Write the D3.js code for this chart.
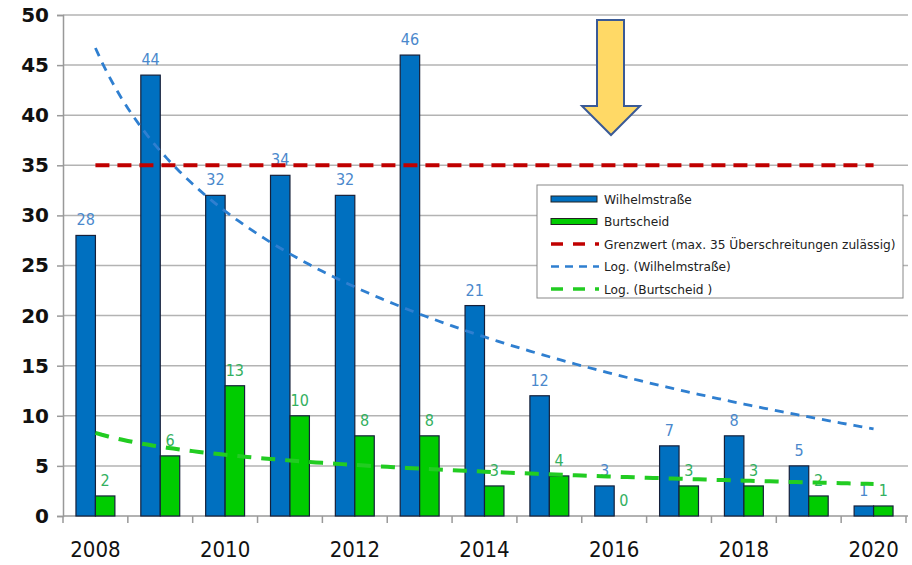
<!DOCTYPE html>
<html>
<head>
<meta charset="UTF-8">
<title></title>
<script src="https://cdn.jsdelivr.net/npm/d3@7"></script>
<style>
  body { margin: 0; background: #fff; }
  text { font-family: "DejaVu Sans", Verdana, sans-serif; }
  .cond { font-family: "DejaVu Sans Condensed", "DejaVu Sans", sans-serif; font-stretch: condensed; }
</style>
</head>
<body>
<svg id="chart" width="912" height="565"></svg>
<script>
var years = [2008, 2009, 2010, 2011, 2012, 2013, 2014, 2015, 2016, 2017, 2018, 2019, 2020];
var wilhelm = [28, 44, 32, 34, 32, 46, 21, 12, 3, 7, 8, 5, 1];
var burtscheid = [2, 6, 13, 10, 8, 8, 3, 4, 0, 3, 3, 2, 1];
var grenzwert = 35;
var yTicks = [0, 5, 10, 15, 20, 25, 30, 35, 40, 45, 50];
var xLabels = [2008, 2010, 2012, 2014, 2016, 2018, 2020];
var legendLabels = ['Wilhelmstraße', 'Burtscheid', 'Grenzwert (max. 35 Überschreitungen zulässig)', 'Log. (Wilhelmstraße)', 'Log. (Burtscheid )'];

var svg = d3.select('#chart');
var pLeft = 63, pRight = 906, pTop = 15, pBottom = 516;

var x0 = d3.scaleBand().domain(years).range([pLeft, pRight]);
var x1 = d3.scaleBand().domain(['w', 'b'])
  .range([x0.bandwidth() * 0.2, x0.bandwidth() * 0.8]);
var y = d3.scaleLinear().domain([0, 50]).range([pBottom, pTop]);

// gridlines
svg.append('g').selectAll('line').data(yTicks.slice(1)).enter().append('line')
  .attr('x1', pLeft).attr('x2', pRight + 2)
  .attr('y1', function(d){ return y(d); }).attr('y2', function(d){ return y(d); })
  .attr('stroke', '#b3b3b3').attr('stroke-width', 1.5);

// y axis
var yAxis = d3.axisLeft(y).tickValues(yTicks).tickSize(6).tickPadding(8);
var gy = svg.append('g').attr('transform', 'translate(' + pLeft + ',0)').call(yAxis);
gy.select('.domain').attr('stroke', '#999').attr('stroke-width', 1.5);
gy.selectAll('.tick line').attr('stroke', '#999').attr('stroke-width', 1.5);
gy.selectAll('.tick text').attr('font-size', 20).attr('font-weight', 'bold').attr('fill', '#111')
  .attr('font-family', '"DejaVu Sans", Verdana, sans-serif');

// x axis
svg.append('line').attr('x1', pLeft).attr('x2', pRight + 2).attr('y1', pBottom).attr('y2', pBottom)
  .attr('stroke', '#999').attr('stroke-width', 1.5);
var bounds = years.map(function(d){ return x0(d); }).concat([pRight]);
svg.append('g').selectAll('line').data(bounds).enter().append('line')
  .attr('x1', function(d){ return d; }).attr('x2', function(d){ return d; })
  .attr('y1', pBottom).attr('y2', pBottom + 7)
  .attr('stroke', '#999').attr('stroke-width', 1.5);
svg.append('g').selectAll('text').data(xLabels).enter().append('text')
  .attr('class', 'cond')
  .attr('x', function(d){ return x0(d) + x0.bandwidth() / 2; })
  .attr('y', 557).attr('text-anchor', 'middle')
  .attr('font-size', 22).attr('fill', '#111')
  .text(function(d){ return d; });

// bars
var series = [
  { key: 'w', values: wilhelm, fill: '#0070c0', label: '#4a88cc' },
  { key: 'b', values: burtscheid, fill: '#00cc00', label: '#33b060' }
];
series.forEach(function(s){
  var g = svg.append('g');
  g.selectAll('rect').data(s.values).enter().append('rect')
    .attr('x', function(d, i){ return x0(years[i]) + x1(s.key); })
    .attr('y', function(d){ return y(d); })
    .attr('width', x1.bandwidth())
    .attr('height', function(d){ return pBottom - y(d); })
    .attr('fill', s.fill).attr('stroke', '#16203a').attr('stroke-width', 1.2);
  g.selectAll('text').data(s.values).enter().append('text')
    .attr('class', 'cond')
    .attr('x', function(d, i){ return x0(years[i]) + x1(s.key) + x1.bandwidth() / 2; })
    .attr('y', function(d){ return y(d) - 10; })
    .attr('text-anchor', 'middle').attr('font-size', 16).attr('fill', s.label)
    .text(function(d){ return d; });
});

// Grenzwert line
var cx = function(i){ return x0(years[i]) + x0.bandwidth() / 2; };
svg.append('line')
  .attr('x1', cx(0)).attr('x2', cx(years.length - 1))
  .attr('y1', y(grenzwert)).attr('y2', y(grenzwert))
  .attr('stroke', '#c00000').attr('stroke-width', 4).attr('stroke-dasharray', '14,8');

// logarithmic trendlines (least squares on ln(index))
function logFit(vals) {
  var lx = vals.map(function(d, i){ return Math.log(i + 1); });
  var mx = d3.mean(lx), my = d3.mean(vals);
  var sxy = d3.sum(vals, function(d, i){ return (lx[i] - mx) * (d - my); });
  var sxx = d3.sum(lx, function(d){ return (d - mx) * (d - mx); });
  var b = sxy / sxx, a = my - b * mx;
  return function(t){ return a + b * Math.log(t); };
}
function trend(vals, color, width, dash) {
  var f = logFit(vals);
  var pts = d3.range(1, vals.length + 0.001, 0.1).map(function(t){
    return [cx(0) + (t - 1) * x0.step(), y(f(t))];
  });
  svg.append('path').attr('d', d3.line()(pts))
    .attr('fill', 'none').attr('stroke', color).attr('stroke-width', width)
    .attr('stroke-dasharray', dash);
}
trend(wilhelm, '#2f7fd0', 2.8, '9,7');
trend(burtscheid, '#22cc22', 4, '14,10');

// arrow
var arrow = [[597, 20], [624, 20], [624, 106], [640, 106], [611, 135], [582, 106], [597, 106]];
svg.append('path').attr('d', d3.line()(arrow) + 'Z')
  .attr('fill', '#ffd966').attr('stroke', '#3a5a96').attr('stroke-width', 2);

// legend
var lg = svg.append('g').attr('transform', 'translate(537,185)');
lg.append('rect').attr('width', 366).attr('height', 113)
  .attr('fill', '#fff').attr('stroke', '#888').attr('stroke-width', 1);
var sym = [
  { type: 'bar', color: '#0070c0' },
  { type: 'bar', color: '#00cc00' },
  { type: 'line', color: '#c00000', w: 3.5, dash: '12,10' },
  { type: 'line', color: '#2f7fd0', w: 2.5, dash: '8,6' },
  { type: 'line', color: '#22cc22', w: 3.5, dash: '12,10' }
];
legendLabels.forEach(function(t, i){
  var yy = 14 + i * 22.5;
  var s = sym[i];
  if (s.type === 'bar') {
    lg.append('rect').attr('x', 14).attr('y', yy - 3).attr('width', 46).attr('height', 6)
      .attr('fill', s.color).attr('stroke', '#222').attr('stroke-width', 1);
  } else {
    lg.append('line').attr('x1', 14).attr('x2', 62).attr('y1', yy).attr('y2', yy)
      .attr('stroke', s.color).attr('stroke-width', s.w).attr('stroke-dasharray', s.dash);
  }
  lg.append('text').attr('x', 67).attr('y', yy + 4.5)
    .attr('font-family', 'Liberation Sans, Arial, sans-serif')
    .attr('font-size', 12.2).attr('fill', '#222').text(t);
});
</script>
</body>
</html>
